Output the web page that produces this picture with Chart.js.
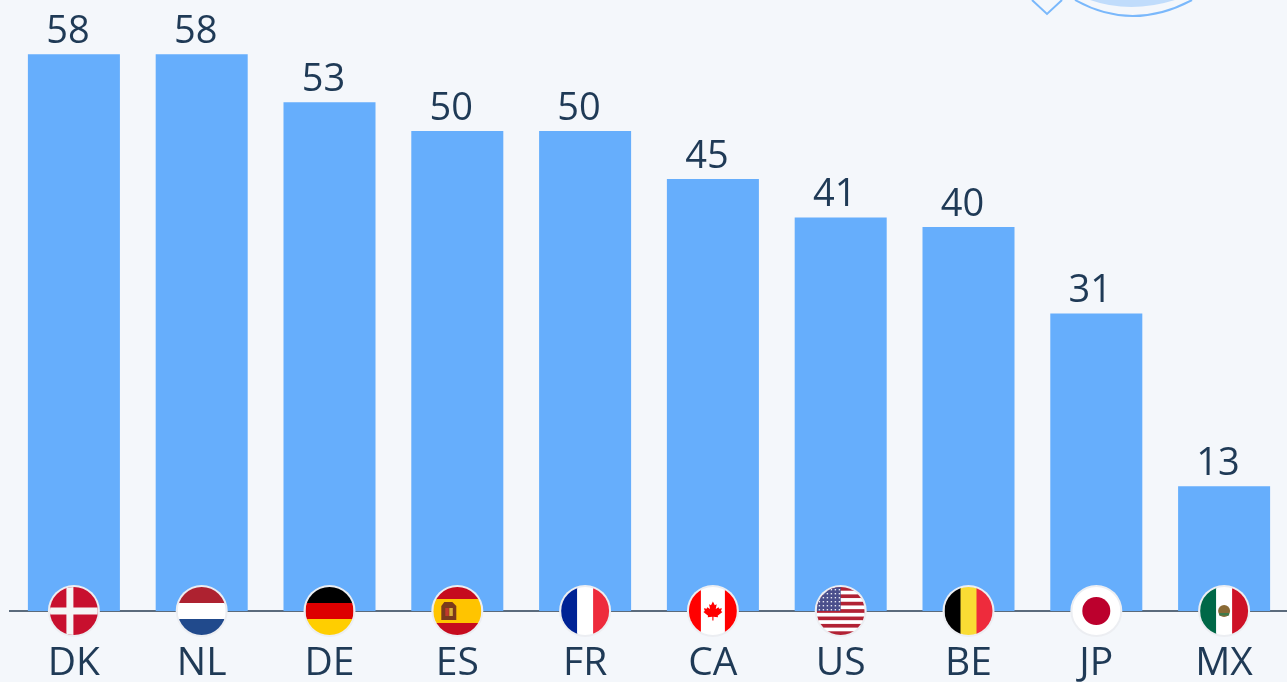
<!DOCTYPE html>
<html>
<head>
<meta charset="utf-8">
<title>Bar chart by country</title>
<script src="https://cdn.jsdelivr.net/npm/chart.js@4"></script>
<style>
  html, body { margin: 0; padding: 0; background: #f4f7fb; overflow: hidden; }
  #chart { display: block; }
</style>
</head>
<body>
<canvas id="chart" width="1290" height="682"></canvas>
<script>
const countries = ["DK", "NL", "DE", "ES", "FR", "CA", "US", "BE", "JP", "MX"];
const shares = [58, 58, 53, 50, 50, 45, 41, 40, 31, 13];

const barColor = "#66aefc";
const textColor = "#1f3a56";
const fontName = "'Open Sans', sans-serif";

function hBands(ctx, x, y, r, colors) {
  const h = 2 * r / colors.length;
  colors.forEach((c, i) => {
    ctx.fillStyle = c;
    ctx.fillRect(x - r, y - r + i * h, 2 * r, h + 0.5);
  });
}

function vBands(ctx, x, y, r, colors) {
  const w = 2 * r / colors.length;
  colors.forEach((c, i) => {
    ctx.fillStyle = c;
    ctx.fillRect(x - r + i * w, y - r, w + 0.5, 2 * r);
  });
}

function mapleLeaf(ctx, x, y, s, color) {
  const pts = [[0,-10],[2,-6],[4,-7],[3,-2],[6,-4],[6.5,-2.5],[9.5,-3],[8.5,0],[10,1],[5,5],[5.5,6.5],[0.6,6],[0.6,10],[-0.6,10],[-0.6,6],[-5.5,6.5],[-5,5],[-10,1],[-8.5,0],[-9.5,-3],[-6.5,-2.5],[-6,-4],[-3,-2],[-4,-7],[-2,-6]];
  ctx.fillStyle = color;
  ctx.beginPath();
  pts.forEach((p, i) => {
    if (i === 0) ctx.moveTo(x + p[0] * s, y + p[1] * s);
    else ctx.lineTo(x + p[0] * s, y + p[1] * s);
  });
  ctx.closePath();
  ctx.fill();
}

const flags = {
  DK(ctx, x, y, r) {
    ctx.fillStyle = "#c8102e";
    ctx.fillRect(x - r, y - r, 2 * r, 2 * r);
    ctx.fillStyle = "#f5f5f5";
    ctx.fillRect(x - r, y - 3.5, 2 * r, 7);
    ctx.fillRect(x - 7.5, y - r, 7, 2 * r);
  },
  NL(ctx, x, y, r) { hBands(ctx, x, y, r, ["#ae2230", "#ffffff", "#214a8c"]); },
  DE(ctx, x, y, r) { hBands(ctx, x, y, r, ["#000000", "#dd0000", "#ffce00"]); },
  ES(ctx, x, y, r) {
    hBands(ctx, x, y, r, ["#c60b1e", "#ffc400", "#ffc400", "#c60b1e"]);
    // rough coat of arms
    ctx.fillStyle = "#7a3a1c";
    ctx.beginPath();
    ctx.moveTo(x - 16, y - 5);
    ctx.lineTo(x - 13, y - 9);
    ctx.lineTo(x - 5, y - 9);
    ctx.lineTo(x - 1, y - 5);
    ctx.lineTo(x - 1, y + 9);
    ctx.lineTo(x - 16, y + 9);
    ctx.closePath();
    ctx.fill();
    ctx.fillStyle = "#c0392b";
    ctx.fillRect(x - 12, y - 3, 3.5, 8);
    ctx.fillStyle = "#d9b23a";
    ctx.fillRect(x - 8, y - 3, 3.5, 8);
  },
  FR(ctx, x, y, r) { vBands(ctx, x, y, r, ["#002395", "#ffffff", "#ee2b3c"]); },
  CA(ctx, x, y, r) {
    ctx.fillStyle = "#ffffff";
    ctx.fillRect(x - r, y - r, 2 * r, 2 * r);
    ctx.fillStyle = "#ff0000";
    ctx.fillRect(x - r, y - r, 12, 2 * r);
    ctx.fillRect(x + r - 12, y - r, 12, 2 * r);
    mapleLeaf(ctx, x, y, 0.95, "#ff0000");
  },
  US(ctx, x, y, r) {
    const stripes = [];
    for (let i = 0; i < 13; i++) stripes.push(i % 2 ? "#ffffff" : "#b22234");
    hBands(ctx, x, y, r, stripes);
    ctx.fillStyle = "#4a4f8c";
    ctx.fillRect(x - r, y - r, 24, 24);
    ctx.fillStyle = "#e8e8f4";
    for (let j = 0; j < 6; j++) {
      for (let i = 0; i < 6; i++) {
        ctx.fillRect(x - r + 2 + i * 4, y - r + 2 + j * 4, 1.4, 1.4);
      }
    }
  },
  BE(ctx, x, y, r) { vBands(ctx, x, y, r, ["#000000", "#fadc34", "#ee2b3c"]); },
  JP(ctx, x, y, r) {
    ctx.fillStyle = "#ffffff";
    ctx.fillRect(x - r, y - r, 2 * r, 2 * r);
    ctx.fillStyle = "#bc002d";
    ctx.beginPath();
    ctx.arc(x, y, 14, 0, Math.PI * 2);
    ctx.fill();
  },
  MX(ctx, x, y, r) {
    vBands(ctx, x, y, r, ["#006847", "#ffffff", "#ce1126"]);
    ctx.fillStyle = "#8a6a35";
    ctx.beginPath();
    ctx.arc(x, y, 6, 0, Math.PI * 2);
    ctx.fill();
    ctx.fillStyle = "#3f7a4a";
    ctx.fillRect(x - 5, y + 2, 10, 2.5);
  }
};

// faint logo that is cut off by the top of the picture
const cornerMark = {
  id: "cornerMark",
  beforeDraw(c) {
    const ctx = c.ctx;
    ctx.save();
    ctx.strokeStyle = "#7ab8fb";
    ctx.lineWidth = 2;
    ctx.beginPath();
    ctx.moveTo(1032, 0);
    ctx.lineTo(1047, 14);
    ctx.lineTo(1062, 0);
    ctx.stroke();
    ctx.fillStyle = "#c0dcfb";
    ctx.beginPath();
    ctx.moveTo(1090, 0);
    ctx.quadraticCurveTo(1130, 14, 1175, 0);
    ctx.closePath();
    ctx.fill();
    ctx.beginPath();
    ctx.moveTo(1075, 0);
    ctx.quadraticCurveTo(1132, 32, 1192, 0);
    ctx.stroke();
    ctx.restore();
  }
};

const barLabels = {
  id: "barLabels",
  afterDatasetsDraw(c) {
    const ctx = c.ctx;
    ctx.save();
    ctx.font = "38px " + fontName;
    ctx.fillStyle = textColor;
    ctx.textAlign = "center";
    ctx.textBaseline = "alphabetic";
    c.getDatasetMeta(0).data.forEach((bar, i) => {
      ctx.fillText(shares[i], bar.x - 6, bar.y - 11.5);
    });
    ctx.restore();
  }
};

const flagMarkers = {
  id: "flagMarkers",
  afterDraw(c) {
    const ctx = c.ctx;
    const y = c.scales.y.getPixelForValue(0);
    const r = 24;
    countries.forEach((code, i) => {
      const x = c.scales.x.getPixelForTick(i);
      ctx.save();
      ctx.fillStyle = "#eceef2";
      ctx.beginPath();
      ctx.arc(x, y, r + 2, 0, Math.PI * 2);
      ctx.fill();
      ctx.beginPath();
      ctx.arc(x, y, r, 0, Math.PI * 2);
      ctx.clip();
      flags[code](ctx, x, y, r);
      ctx.restore();
    });
  }
};

new Chart(document.getElementById("chart"), {
  type: "bar",
  data: {
    labels: countries,
    datasets: [{
      data: shares,
      backgroundColor: barColor,
      barPercentage: 0.72,
      categoryPercentage: 1
    }]
  },
  plugins: [cornerMark, barLabels, flagMarkers],
  options: {
    responsive: false,
    animation: false,
    layout: { padding: { top: 35, left: 10, right: 2, bottom: 0 } },
    plugins: { legend: { display: false }, tooltip: { enabled: false } },
    scales: {
      x: {
        afterFit(scale) { scale.height = 71; },
        grid: { drawOnChartArea: false, drawTicks: false },
        border: { color: "#5b6b7c", width: 2 },
        ticks: {
          color: textColor,
          font: { family: fontName, size: 39 },
          padding: 29,
          maxRotation: 0,
          autoSkip: false
        }
      },
      y: { display: false, min: 0, max: 60 }
    }
  }
});
</script>
</body>
</html>
